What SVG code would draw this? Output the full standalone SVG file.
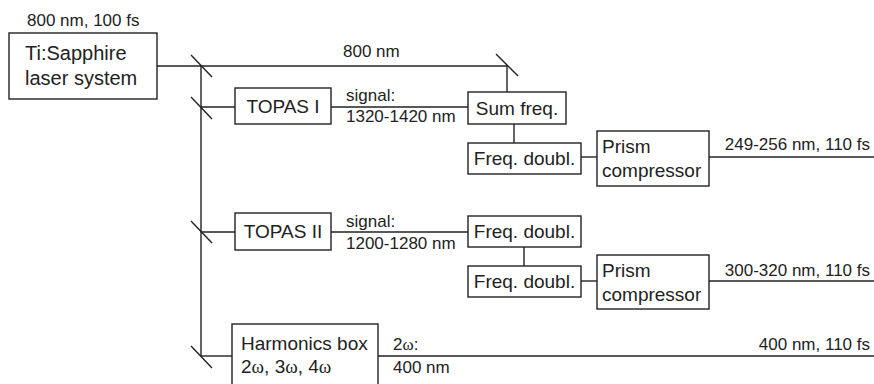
<svg xmlns="http://www.w3.org/2000/svg" width="874" height="384" viewBox="0 0 874 384">
<style>
.box{fill:#fff;stroke:#222;stroke-width:1.4}
.ln{stroke:#222;stroke-width:1.4;fill:none}
.bt{font-family:"Liberation Sans",Arial,sans-serif;font-size:19px;fill:#222}
.lb{font-family:"Liberation Sans",Arial,sans-serif;font-size:17px;fill:#222}
.om{font-family:"Liberation Serif","Times New Roman",serif}
.c{text-anchor:middle}
.r{text-anchor:end}
</style>
<rect width="874" height="384" fill="#fff"/>
<g id="connectors">
<line class="ln" x1="157" y1="66" x2="507" y2="66"/>
<line class="ln" x1="201" y1="66" x2="201" y2="356"/>
<line class="ln" x1="191" y1="55" x2="212" y2="77"/>
<line class="ln" x1="191" y1="97" x2="212" y2="119"/>
<line class="ln" x1="191" y1="221" x2="212" y2="243"/>
<line class="ln" x1="191" y1="346" x2="212" y2="368"/>
<line class="ln" x1="496" y1="54" x2="518" y2="76"/>
<line class="ln" x1="507" y1="66" x2="507" y2="92"/>
<line class="ln" x1="201" y1="107" x2="235" y2="107"/>
<line class="ln" x1="331" y1="107" x2="468" y2="107"/>
<line class="ln" x1="514" y1="124" x2="514" y2="143"/>
<line class="ln" x1="581" y1="157" x2="597" y2="157"/>
<line class="ln" x1="709" y1="157" x2="874" y2="157"/>
<line class="ln" x1="201" y1="232" x2="235" y2="232"/>
<line class="ln" x1="331" y1="232" x2="468" y2="232"/>
<line class="ln" x1="524" y1="247" x2="524" y2="266"/>
<line class="ln" x1="581" y1="281" x2="597" y2="281"/>
<line class="ln" x1="709" y1="281" x2="874" y2="281"/>
<line class="ln" x1="201" y1="356" x2="232" y2="356"/>
<line class="ln" x1="378" y1="356" x2="874" y2="356"/>
</g>
<g id="labels">
<text class="lb" x="27" y="26">800 nm, 100 fs</text>
<text class="lb" x="343" y="57">800 nm</text>
<text class="lb" x="346" y="101">signal:</text>
<text class="lb" x="346" y="122">1320-1420 nm</text>
<text class="lb r" x="870" y="150">249-256 nm, 110 fs</text>
<text class="lb" x="346" y="227">signal:</text>
<text class="lb" x="346" y="249">1200-1280 nm</text>
<text class="lb r" x="870" y="276">300-320 nm, 110 fs</text>
<text class="lb" x="393" y="350">2<tspan class="om">ω</tspan>:</text>
<text class="lb" x="393" y="373">400 nm</text>
<text class="lb r" x="870" y="350">400 nm, 110 fs</text>
</g>
<g id="laser">
<rect class="box" x="9" y="33" width="148" height="66"/>
<text class="bt" x="25" y="60" style="font-size:20px">Ti:Sapphire</text>
<text class="bt" x="25" y="85" style="font-size:20px">laser system</text>
</g>
<g id="topas1">
<rect class="box" x="235" y="88" width="96" height="36"/>
<text class="bt c" x="283" y="113">TOPAS I</text>
</g>
<g id="sumfreq">
<rect class="box" x="468" y="92" width="98" height="32"/>
<text class="bt c" x="517" y="115">Sum freq.</text>
</g>
<g id="freqdoubl1">
<rect class="box" x="468" y="143" width="113" height="31"/>
<text class="bt c" x="524.5" y="165">Freq. doubl.</text>
</g>
<g id="prism1">
<rect class="box" x="597" y="131" width="112" height="55"/>
<text class="bt" x="602" y="153">Prism</text>
<text class="bt" x="602" y="177">compressor</text>
</g>
<g id="topas2">
<rect class="box" x="235" y="213" width="96" height="37"/>
<text class="bt c" x="283" y="238">TOPAS II</text>
</g>
<g id="freqdoubl2">
<rect class="box" x="468" y="216" width="113" height="31"/>
<text class="bt c" x="524.5" y="238">Freq. doubl.</text>
</g>
<g id="freqdoubl3">
<rect class="box" x="468" y="266" width="113" height="31"/>
<text class="bt c" x="524.5" y="288">Freq. doubl.</text>
</g>
<g id="prism2">
<rect class="box" x="597" y="255" width="112" height="54"/>
<text class="bt" x="602" y="277">Prism</text>
<text class="bt" x="602" y="301">compressor</text>
</g>
<g id="harmonics">
<rect class="box" x="232" y="324" width="146" height="70"/>
<text class="bt" x="241" y="350">Harmonics box</text>
<text class="bt" x="241" y="373">2<tspan class="om">ω</tspan>, 3<tspan class="om">ω</tspan>, 4<tspan class="om">ω</tspan></text>
</g>
</svg>
